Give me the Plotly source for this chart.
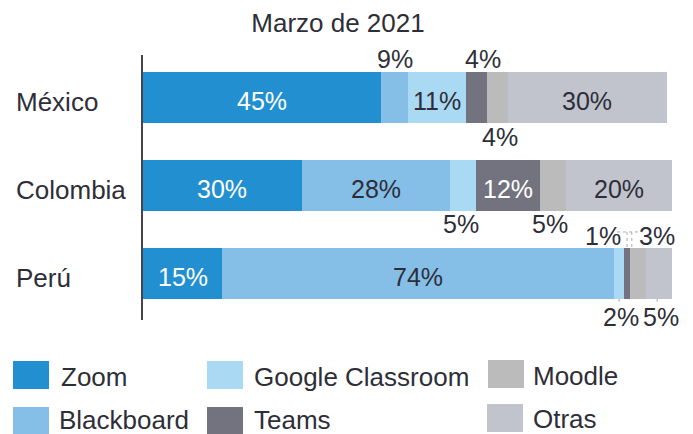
import plotly.graph_objects as go

# ---- data ----
categories = ["México", "Colombia", "Perú"]
series = ["Zoom", "Blackboard", "Google Classroom", "Teams", "Moodle", "Otras"]
zoom = [45, 30, 15]
blackboard = [5, 28, 74]
google_classroom = [11, 5, 2]
teams = [4, 12, 1]
moodle = [4, 5, 3]
otras = [30, 20, 5]
values = [zoom, blackboard, google_classroom, teams, moodle, otras]

# printed labels (as shown in the reference)
zoom_lbl = ["45%", "30%", "15%"]
blackboard_lbl = ["9%", "28%", "74%"]
google_lbl = ["11%", "5%", "2%"]
teams_lbl = ["4%", "12%", "1%"]
moodle_lbl = ["4%", "5%", "3%"]
otras_lbl = ["30%", "20%", "5%"]
labels = [zoom_lbl, blackboard_lbl, google_lbl, teams_lbl, moodle_lbl, otras_lbl]

# ---- styles ----
colors = ["#2290D0", "#85BFE8", "#A9D9F3", "#737380", "#BBBBBB", "#C1C4CC"]
DARK = "#2E2E38"
FONT = "Liberation Sans, Arial, sans-serif"
FS_TXT = 26
FS_NUM = 25

# label placement per series/category: (x-shift-px, y-shift-px, colour)
IN = -4
place = [
    [(0, IN, "white"), (0, IN, "white"), (0, IN, "white")],
    [(1, 38, DARK), (0, IN, DARK), (0, IN, DARK)],
    [(0, IN, DARK), (-2, -39, DARK), (2, -44, DARK)],
    [(7, 38, DARK), (0, IN, "white"), (-24, 37, DARK)],
    [(3, -40, DARK), (-3, -39, DARK), (19, 37, DARK)],
    [(0, IN, DARK), (0, IN, DARK), (2, -44, DARK)],
]

L, R, T, B = 143, 21, 55, 114
W, H = 693, 434
PW, PH = W - L - R, H - T - B

def px(x):
    return (x - L) / PW

def py(y):
    return (H - B - y) / PH

fig = go.Figure()
ypos = list(range(len(categories)))
for name, vals, col in zip(series, values, colors):
    fig.add_trace(go.Bar(
        y=ypos, x=vals, name=name, orientation="h",
        marker=dict(color=col, line=dict(width=0)),
        width=0.58, showlegend=False, hoverinfo="x+name",
    ))

annotations = []
shapes = []
for i in range(len(categories)):
    cum = 0
    for s in range(len(series)):
        v = values[s][i]
        mid = cum + v / 2
        dx, dy, col = place[s][i]
        annotations.append(dict(
            x=mid, y=i, xref="x", yref="y", text=labels[s][i], showarrow=False,
            xshift=dx, yshift=dy, font=dict(family=FONT, size=FS_NUM, color=col),
            xanchor="center", yanchor="middle",
        ))
        cum += v

# dotted connectors for the small Perú segments
pi = 2
c_gc = zoom[pi] + blackboard[pi] + google_classroom[pi] / 2
c_te = zoom[pi] + blackboard[pi] + google_classroom[pi] + teams[pi] / 2
c_mo = zoom[pi] + blackboard[pi] + google_classroom[pi] + teams[pi] + 0.4
c_ot = 100 - otras[pi] / 2 - 0.3
dot = dict(color="#AAAAAA", width=1, dash="dot")
top = pi - 0.29
bot = pi + 0.29
shapes.append(dict(type="line", xref="x", yref="y", x0=c_te - 1.9, x1=c_mo + 1.9,
                   y0=top - 0.18, y1=top - 0.18, line=dot))
shapes.append(dict(type="line", xref="x", yref="y", x0=c_te, x1=c_te,
                   y0=top - 0.18, y1=top, line=dot))
shapes.append(dict(type="line", xref="x", yref="y", x0=c_mo, x1=c_mo,
                   y0=top - 0.18, y1=top, line=dot))
shapes.append(dict(type="line", xref="x", yref="y", x0=c_gc, x1=c_gc,
                   y0=bot, y1=bot + 0.07, line=dot))
shapes.append(dict(type="line", xref="x", yref="y", x0=c_ot, x1=c_ot,
                   y0=bot, y1=bot + 0.07, line=dot))

# category labels (left aligned)
for i, c in enumerate(categories):
    annotations.append(dict(
        x=px(14), y=i, xref="paper", yref="y", text=c, showarrow=False,
        xanchor="left", yanchor="middle", yshift=-5,
        font=dict(family=FONT, size=FS_TXT, color=DARK),
    ))

# custom legend (square left, square top, text left, text centre)
leg = [
    ("Zoom", 13, 361, 59, 377),
    ("Blackboard", 13, 407, 57, 420),
    ("Google Classroom", 207, 361, 252, 377),
    ("Teams", 207, 407, 252, 420),
    ("Moodle", 488, 360, 531, 376),
    ("Otras", 487, 404, 531, 419),
]
for (name, sx, sy, tx, ty) in leg:
    col = colors[series.index(name)]
    shapes.append(dict(type="rect", xref="paper", yref="paper",
                       x0=px(sx), x1=px(sx + 36), y0=py(sy), y1=py(sy + 28),
                       fillcolor=col, line=dict(width=0)))
    annotations.append(dict(
        x=px(tx), y=py(ty), xref="paper", yref="paper", text=name, showarrow=False,
        xanchor="left", yanchor="middle",
        font=dict(family=FONT, size=FS_TXT, color=DARK),
    ))

fig.update_layout(
    width=W, height=H,
    margin=dict(l=L, r=R, t=T, b=B, pad=0),
    barmode="stack",
    bargap=0,
    plot_bgcolor="white", paper_bgcolor="white",
    title=dict(text="Marzo de 2021", x=338 / W, xref="container", xanchor="center",
               y=1 - 23 / H, yref="container", yanchor="middle",
               font=dict(family=FONT, size=FS_TXT, color=DARK)),
    xaxis=dict(range=[0, 100], showgrid=False, zeroline=False, showticklabels=False,
               showline=False, ticks=""),
    yaxis=dict(range=[2.53, -0.48], showgrid=False, zeroline=False,
               showticklabels=False, ticks="", showline=True, linecolor="#44444C",
               linewidth=1.5),
    annotations=annotations,
    shapes=shapes,
)

fig.write_html("out.html", config={"displayModeBar": False},
               post_script="document.body.style.margin='0';document.body.style.overflow='hidden';")
